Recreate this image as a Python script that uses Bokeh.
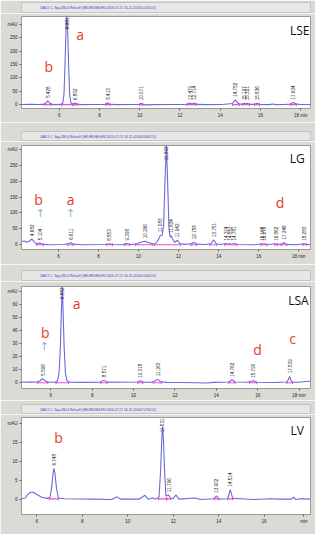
import numpy as np
from bokeh.plotting import figure
from bokeh.layouts import column
from bokeh.models import Label, FixedTicker, Range1d
from bokeh.core.properties import value
from bokeh.embed import file_html
from bokeh.resources import INLINE

# ---------------- data ----------------
# LSE
lse_title = "DAD1 C, Sig=280,4 Ref=off (SELEN\\SELEN 2016-07-21 16-11-41\\050-0502.D)"
lse_time = [4.13, 4.6, 4.95, 5.25, 5.35, 5.43, 5.52, 5.62, 5.85, 6.12, 6.18, 6.24, 6.29, 6.34, 6.38, 6.42,
            6.47, 6.52, 6.58, 6.64, 6.72, 6.8, 6.88, 7.1, 7.6, 8.3, 8.41, 8.52, 8.9, 9.6, 10.0, 10.07, 10.15,
            10.3, 10.6, 11.5, 12.35, 12.48, 12.58, 12.71, 12.82, 13.3, 14.1, 14.6, 14.75, 14.9, 15.05, 15.2,
            15.26, 15.32, 15.45, 15.7, 15.83, 15.95, 16.4, 16.62, 16.75, 17.2, 17.5, 17.63, 17.78, 18.0, 18.48]
lse_signal = [0.5, 1.5, 0.5, 1, 6, 14, 6, 1, 0, 1, 4, 40, 150, 280, 340, 280,
              150, 40, 6, 2, 2, 6, 2, 0, 0.5, 1, 7, 1, 0, 0.5, 1, 5, 1,
              -1, 0, 0.5, 1, 6, 2, 6, 1, 0, 0.5, 4, 18, 4, 1, 5,
              2, 5, 1, 1, 5, 1, 0, 2, 0, 0.5, 2, 8, 2, 0.5, 0.5]
lse_peak_t = [5.43, 6.38, 6.8, 8.41, 10.07, 12.48, 12.71, 14.75, 15.2, 15.32, 15.83, 17.63]
lse_peak_v = [14, 340, 6, 7, 5, 6, 6, 18, 5, 5, 5, 8]
lse_peak_lbl = ["5.428", "6.381", "6.802", "8.413", "10.071", "12.479", "12.714", "14.752",
                "15.197", "15.321", "15.836", "17.634"]
lse_int_start = [5.25, 6.12, 6.7, 8.3, 10.0, 12.35, 14.6, 15.1, 15.7, 17.5]
lse_int_end = [5.62, 6.66, 6.9, 8.52, 10.15, 12.82, 14.95, 15.45, 15.95, 17.78]

# LG
lg_title = "DAD1 C, Sig=280,4 Ref=off (SELEN\\SELEN 2016-07-21 16-11-41\\050-0802.D)"
lg_time = [4.16, 4.3, 4.42, 4.55, 4.68, 4.8, 4.92, 5.02, 5.1, 5.2, 5.5, 6.3, 6.5, 6.61, 6.72, 7.2, 8.4,
           8.55, 8.7, 9.2, 9.4, 9.55, 9.9, 10.1, 10.3, 10.5, 10.7, 10.85, 10.98, 11.08, 11.18, 11.25,
           11.32, 11.39, 11.45, 11.52, 11.58, 11.63, 11.7, 11.8, 11.94, 12.05, 12.3, 12.65, 12.76, 12.88,
           13.3, 13.6, 13.75, 13.88, 14.1, 14.37, 14.45, 14.55, 14.64, 14.78, 14.9, 15.8, 16.17, 16.22,
           16.28, 16.4, 16.86, 16.95, 17.15, 17.25, 17.36, 17.9, 18.28, 18.4, 18.58]
lg_signal = [10, 12, 8, 11, 18, 8, 2, 5, 5, 2, 0, 0.5, 4, 6, 2, 0, 0.5,
             3, 0.5, 0, 4, 0.5, 2, 8, 11, 7, 2, 4, 15, 28, 30, 60,
             200, 320, 200, 50, 24, 28, 18, 8, 14, 4, 1, 3, 8, 2,
             0.5, 3, 15, 3, 0.5, 4, 1, 4, 1, 4, 0.5, 0, 3, 1,
             3, 0, 3, 0.5, 2, 7, 1, 0, 3, 0.5, 0.5]
lg_peak_t = [4.68, 5.1, 6.61, 8.55, 9.4, 10.3, 11.08, 11.39, 11.63, 11.94, 12.76, 13.75, 14.37, 14.55,
             14.78, 16.17, 16.28, 16.86, 17.25, 18.28]
lg_peak_v = [18, 5, 6, 3, 4, 11, 30, 320, 28, 14, 8, 15, 4, 4, 4, 3, 3, 3, 7, 3]
lg_peak_lbl = ["4.682", "5.104", "6.611", "8.553", "9.398", "10.296", "11.083", "11.392", "11.634",
               "11.942", "12.758", "13.751", "14.374", "14.552", "14.781", "16.168", "16.279", "16.862",
               "17.248", "18.283"]
lg_int_start = [4.9, 6.45, 8.4, 9.3, 9.85, 10.8, 12.6, 13.55, 14.3, 16.1, 16.8, 17.1, 18.2]
lg_int_end = [5.25, 6.75, 8.7, 9.55, 10.7, 12.1, 12.9, 13.9, 14.9, 16.4, 16.95, 17.4, 18.4]

# LSA
lsa_title = "DAD1 C, Sig=280,4 Ref=off (SELEN\\SELEN 2016-07-21 16-11-41\\050-0602.D)"
lsa_time = [4.58, 5.0, 5.35, 5.48, 5.6, 5.72, 5.85, 6.2, 6.32, 6.4, 6.46, 6.51, 6.55, 6.59, 6.64, 6.7,
            6.78, 6.9, 7.5, 8.4, 8.57, 8.72, 9.5, 10.2, 10.32, 10.45, 10.9, 11.05, 11.16, 11.28, 11.6,
            12.3, 13.5, 13.9, 14.6, 14.76, 14.9, 15.5, 15.79, 15.95, 16.8, 17.4, 17.47, 17.54, 17.6,
            17.68, 18.0, 18.3, 18.55]
lsa_signal = [0.6, 0.5, 0.6, 1.5, 3.1, 1.5, 0.4, 0.4, 1.5, 8, 28, 55, 75, 55, 28, 8,
              1.5, 0.4, 0.3, 0.5, 2, 0.5, 0.4, 0.6, 1.5, 0.4, 0.5, 1.5, 2.6, 1, 0.3,
              0.2, -0.2, 0.3, 0.6, 2.3, 0.6, 0.4, 1.5, 0.4, 0.2, 0.6, 2, 4.9, 2,
              0.5, 0.4, 1.0, 1.2]
lsa_peak_t = [5.6, 6.55, 8.57, 10.32, 11.16, 14.76, 15.79, 17.54]
lsa_peak_v = [3.1, 75, 2, 1.5, 2.6, 2.3, 1.5, 4.9]
lsa_peak_lbl = ["5.598", "6.552", "8.571", "10.318", "11.163", "14.762", "15.790", "17.539"]
lsa_int_start = [5.35, 6.25, 8.4, 10.2, 10.95, 14.6, 15.6, 17.4]
lsa_int_end = [5.85, 6.85, 8.72, 10.45, 11.35, 14.9, 15.95, 17.68]

# LV
lv_title = "DAD1 C, Sig=280,4 Ref=off (SELEN\\SELEN 2016-07-21 16-11-41\\007-0702.D)"
lv_time = [5.33, 5.5, 5.6, 5.72, 5.85, 6.0, 6.22, 6.45, 6.58, 6.65, 6.72, 6.75, 6.8, 6.87, 6.95, 7.2,
           8.5, 9.3, 9.53, 9.7, 10.5, 10.76, 10.9, 11.1, 11.25, 11.38, 11.45, 11.5, 11.53, 11.57, 11.62,
           11.68, 11.8, 11.9, 12.0, 12.13, 12.25, 12.96, 13.2, 13.8, 13.9, 14.0, 14.4, 14.51, 14.62,
           15.0, 15.5, 16.3, 16.6, 17.2, 17.3, 17.4, 17.6, 18.04]
lv_signal = [0.3, 0.5, 1.4, 2.0, 2.0, 1.4, 0.7, 0.4, 0.6, 3, 7, 8.2, 7, 3, 0.5, 0.3,
             0.2, 0.1, 0.8, 0.2, 0.2, 1.2, 0.2, 0.5, 0.2, 0.8, 8, 16, 19.2, 16, 8,
             1, 1.3, 0.3, 0.4, 1.3, 0.2, 0.5, 0.1, 0.3, 1.1, 0.2, 0.3, 2.7, 0.4,
             0.3, 0.1, 0.3, 0.2, 0.2, 0.7, 0.1, 0.3, 0.2]
lv_peak_t = [6.75, 11.53, 11.8, 13.9, 14.51]
lv_peak_v = [8.2, 19.2, 1.3, 1.1, 2.7]
lv_peak_lbl = ["6.748", "11.531", "11.796", "13.902", "14.514"]
lv_int_start = [6.55, 11.35, 11.72, 13.8, 14.4]
lv_int_end = [6.95, 11.72, 11.9, 14.0, 14.62]

# axis ticks
lse_yticks = [0, 50, 100, 150, 200, 250, 300]
lg_yticks = [0, 50, 100, 150, 200, 250, 300]
lsa_yticks = [0, 10, 20, 30, 40, 50, 60, 70]
lv_yticks = [0, 5, 10, 15, 20]
xticks_a = [6, 8, 10, 12, 14, 16, 18]
xticks_lv = [6, 8, 10, 12, 14, 16, 17.75]

# ---------------- styling ----------------
W = 315
PANEL_BG = "#dcdad5"
BAR_BG = "#e7e7e7"
TRACE = "#6a6ad8"
PINK = "#e04fd6"
RED = "#e8392e"
ARROW = "#86b9c2"

panels = [
    dict(title=lse_title, t=lse_time, s=lse_signal, pt=lse_peak_t, pv=lse_peak_v, pl=lse_peak_lbl,
         i0=lse_int_start, i1=lse_int_end, lvl=0, yt=lse_yticks, xt=xticks_a, xo={18: "18 min"},
         xr=(4.13, 18.48), yr=(-14.5, 329), bar_h=13, bar_top=2, h=109, top=3, bottom=14,
         name="LSE", name_xy=(18.43, 275), letters=[("b", 5.48, 141), ("a", 7.04, 261)], arrows=[]),
    dict(title=lg_title, t=lg_time, s=lg_signal, pt=lg_peak_t, pv=lg_peak_v, pl=lg_peak_lbl,
         i0=lg_int_start, i1=lg_int_end, lvl=0, yt=lg_yticks, xt=xticks_a, xo={18: "18 min"},
         xr=(4.16, 18.58), yr=(-15, 312), bar_h=19, bar_top=9, h=123, top=4, bottom=15,
         name="LG", name_xy=(18.29, 272), letters=[("b", 5.01, 141), ("a", 6.61, 141), ("d", 17.06, 132)],
         arrows=[(5.1, 98), (6.61, 98)]),
    dict(title=lsa_title, t=lsa_time, s=lsa_signal, pt=lsa_peak_t, pv=lsa_peak_v, pl=lsa_peak_lbl,
         i0=lsa_int_start, i1=lsa_int_end, lvl=0, yt=lsa_yticks, xt=xticks_a, xo={18: "18 min"},
         xr=(4.58, 18.55), yr=(-4.4, 73.6), bar_h=17, bar_top=6, h=119, top=5, bottom=10,
         name="LSA", name_xy=(18.46, 62.7),
         letters=[("b", 5.73, 38.6), ("a", 7.24, 60.5), ("d", 15.99, 25.5), ("c", 17.68, 33.5)],
         arrows=[(5.68, 27.7)]),
    dict(title=lv_title, t=lv_time, s=lv_signal, pt=lv_peak_t, pv=lv_peak_v, pl=lv_peak_lbl,
         i0=lv_int_start, i1=lv_int_end, lvl=0.3, yt=lv_yticks, xt=xticks_lv, xo={17.75: "min"},
         xr=(5.33, 18.04), yr=(-3.8, 21.5), bar_h=14, bar_top=4, h=120, top=3, bottom=20,
         name="LV", name_xy=(17.75, 18.0), letters=[("b", 6.96, 16.4)], arrows=[]),
]


def make_bar(cfg):
    b = figure(width=W, height=cfg["bar_h"], x_range=Range1d(0, 309), y_range=Range1d(0, 1),
               output_backend="svg", toolbar_location=None, x_axis_location=None, y_axis_location=None,
               min_border_left=3, min_border_right=3, min_border_top=cfg["bar_top"],
               min_border_bottom=cfg["bar_h"] - cfg["bar_top"] - 10)
    b.grid.visible = False
    b.background_fill_color = BAR_BG
    b.border_fill_color = PANEL_BG
    b.outline_line_color = "#c2c2c2"
    b.add_layout(Label(x=20, y=0.5, text=cfg["title"], text_font="Liberation Sans",
                       text_font_size="3.3px", text_color="#3c3cd0", text_baseline="middle"))
    return b


def make_plot(cfg):
    p = figure(width=W, height=cfg["h"], x_range=Range1d(*cfg["xr"]), y_range=Range1d(*cfg["yr"]),
               output_backend="svg", toolbar_location=None,
               min_border_left=21, min_border_right=5, min_border_top=cfg["top"],
               min_border_bottom=cfg["bottom"])
    p.grid.visible = False
    p.background_fill_color = "white"
    p.border_fill_color = PANEL_BG
    p.outline_line_color = "#9a9a9a"
    p.xaxis.ticker = FixedTicker(ticks=cfg["xt"])
    p.xaxis.major_label_overrides = cfg["xo"]
    p.yaxis.ticker = FixedTicker(ticks=cfg["yt"])
    p.yaxis.major_label_overrides = {cfg["yt"][-1]: "mAU"}
    for ax in (p.xaxis[0], p.yaxis[0]):
        ax.major_label_text_font_size = "4.5px"
        ax.major_label_text_color = "#222222"
        ax.major_label_text_font = "Liberation Sans"
        ax.axis_line_color = None
        ax.major_tick_line_color = "#666666"
        ax.major_tick_out = 2
        ax.major_tick_in = 0
        ax.minor_tick_line_color = None
        ax.major_label_standoff = 2

    p.line(cfg["t"], cfg["s"], line_color=TRACE, line_width=1.1)
    n = len(cfg["i0"])
    lvl = [cfg["lvl"]] * n
    p.segment(x0=cfg["i0"], y0=lvl, x1=cfg["i1"], y1=lvl, line_color=PINK, line_width=1.2)
    p.scatter(x=cfg["i0"] + cfg["i1"], y=lvl + lvl, marker="dash", angle=np.pi / 2, size=3,
              line_color=PINK)

    ytop = cfg["yr"][1]
    lo = [(t, v, l) for t, v, l in zip(cfg["pt"], cfg["pv"], cfg["pl"]) if v < 0.85 * ytop]
    hi = [(t, ytop, l) for t, v, l in zip(cfg["pt"], cfg["pv"], cfg["pl"]) if v >= 0.85 * ytop]
    if lo:
        p.text(x=[a[0] for a in lo], y=[a[1] for a in lo], text=[a[2] for a in lo], angle=np.pi / 2,
               text_align="left", text_baseline="middle", y_offset=-3, text_font_size="4.6px",
               text_font=value("Liberation Sans"), text_color="#222222")
    if hi:
        p.text(x=[a[0] for a in hi], y=[a[1] for a in hi], text=[a[2] for a in hi], angle=np.pi / 2,
               text_align="right", text_baseline="middle", y_offset=1, text_font_size="4.6px",
               text_font=value("Liberation Sans"), text_color="#222222")

    for letter, lx, ly in cfg["letters"]:
        p.add_layout(Label(x=lx, y=ly, text=letter, text_color=RED, text_font="Open Sans",
                           text_font_size="14px", text_align="center", text_baseline="middle"))
    for ax_, ay_ in cfg["arrows"]:
        p.add_layout(Label(x=ax_, y=ay_, text="\u2191", text_color=ARROW, text_font="DejaVu Sans",
                           text_font_size="11px", text_align="center", text_baseline="middle"))
    nx, ny = cfg["name_xy"]
    p.add_layout(Label(x=nx, y=ny, text=cfg["name"], text_color="#111111", text_font="Open Sans",
                       text_font_size="12px", text_align="right", text_baseline="middle"))
    return p


children = []
for cfg in panels:
    children.append(make_bar(cfg))
    children.append(make_plot(cfg))

layout = column(children, spacing=0)
open("out.html", "w").write(file_html(layout, INLINE))
